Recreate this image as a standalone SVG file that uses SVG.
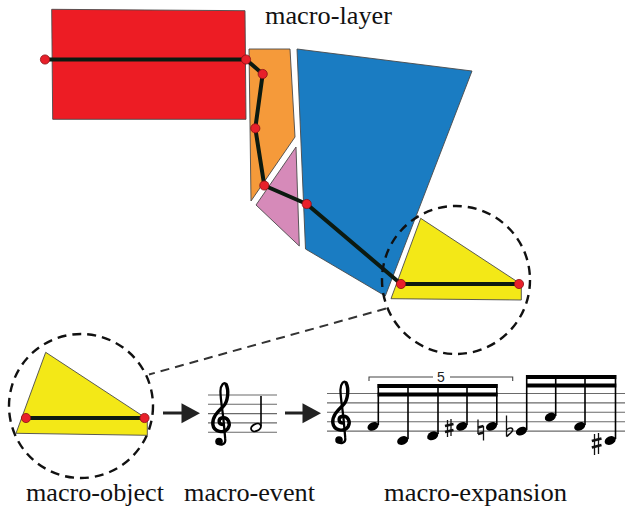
<svg xmlns="http://www.w3.org/2000/svg" width="625" height="508" viewBox="0 0 625 508">
<defs>
<style>
.shape{stroke:#4a4a4a;stroke-width:0.9;stroke-linejoin:miter}
.path{fill:none;stroke:#0c1a10;stroke-width:4;stroke-linejoin:round;stroke-linecap:round}
.dot{fill:#e8202a;stroke:#8a1015;stroke-width:0.8}
.dcirc{fill:none;stroke:#111;stroke-width:2.4;stroke-dasharray:9 6}
.dline{fill:none;stroke:#333;stroke-width:2;stroke-dasharray:9 6}
.label{font-family:"Liberation Serif","Times New Roman",serif;font-size:25px;fill:#111}
.staff{stroke:#6a6a6a;stroke-width:1.1}
.stem{stroke:#000;stroke-width:1.6}
.beam{fill:#000}
.head{fill:#000}
.arr{stroke:#222;stroke-width:3}
.acc{stroke:#111;stroke-width:1.3;fill:none}
.accb{stroke:#111;stroke-width:2.5;fill:none}
.clef{fill:none;stroke:#000;stroke-linecap:round;stroke-linejoin:round}
</style>
<g id="clefshape">
<path class="clef" stroke-width="3.6" d="M 13,31 C 9,31 8,25 13,24 C 19,23 22,30 19,35 C 15,41 4,39 3,31 C 2,23 9,17 14,12 C 19,7 20,-5 17,-11"/>
<path class="clef" stroke-width="2.4" d="M 17,-11 C 15,-15 11,-10 11,-4 C 11,4 13,15 14,24 L 16,46 C 17,53 10,54 8,49"/>
<circle cx="9.5" cy="49" r="4" fill="#000"/>
</g>
<ellipse id="nh" cx="0" cy="0" rx="5.8" ry="4.1" transform="rotate(-25)" class="head"/>
</defs>

<g id="macro-layer">
<polygon id="red" class="shape" fill="#ed1c24" points="51.7,9.3 245,10.7 246,119.3 52.7,119.3"/>
<polygon id="orange" class="shape" fill="#f59a3a" points="249,49 290,49 295,137 251,201"/>
<polygon id="pink" class="shape" fill="#d68ab9" points="256,205 296,147 299.3,246"/>
<polygon id="blue" class="shape" fill="#1a7cc2" points="297,49 472,71 385.3,296 305.5,249"/>
<polygon id="yellow" class="shape" fill="#f3e817" points="420.7,218.3 517.3,281.7 521.3,281.7 521.3,300 391,298.7"/>
<text class="label" x="265" y="24" textLength="127" lengthAdjust="spacingAndGlyphs">macro-layer</text>
</g>

<g id="connectors">
<polyline class="path" points="45,59.5 246,59.5 262.7,74 255.3,128.3 264.3,185.5 306.7,204 401,284 519,284"/>
<circle class="dot" cx="45" cy="59.5" r="4.6"/>
<circle class="dot" cx="246" cy="59.5" r="4.6"/>
<circle class="dot" cx="262.7" cy="74" r="4.6"/>
<circle class="dot" cx="255.3" cy="128.3" r="4.6"/>
<circle class="dot" cx="264.3" cy="185.5" r="4.6"/>
<circle class="dot" cx="306.7" cy="204" r="4.6"/>
<circle class="dot" cx="401" cy="284" r="4.6"/>
<circle class="dot" cx="519" cy="284" r="4.6"/>
<line class="dline" x1="386" y1="308.5" x2="149" y2="374.5"/>
<line class="arr" x1="163" y1="413" x2="184" y2="413"/>
<polygon fill="#222" points="181.5,403.3 200,413.3 181.5,423.3"/>
<line class="arr" x1="285" y1="413" x2="305" y2="413"/>
<polygon fill="#222" points="302.5,403.3 321,413.3 302.5,423.3"/>
</g>

<g id="zoom-circle">
<circle class="dcirc" cx="456" cy="280" r="74"/>
</g>

<g id="macro-object">
<circle class="dcirc" cx="81" cy="406" r="72"/>
<polygon class="shape" fill="#f3e817" points="45.7,352.3 142.3,415.7 147.3,415.7 147.3,435.3 16,433.3"/>
<line class="path" x1="26" y1="418" x2="144.5" y2="418"/>
<circle class="dot" cx="26" cy="418" r="4.6"/>
<circle class="dot" cx="144.5" cy="418" r="4.6"/>
<text class="label" x="26" y="501" textLength="138" lengthAdjust="spacingAndGlyphs">macro-object</text>
</g>

<g id="macro-event">
<line class="staff" x1="208" y1="395" x2="277" y2="395"/>
<line class="staff" x1="208" y1="404.3" x2="277" y2="404.3"/>
<line class="staff" x1="208" y1="413.6" x2="277" y2="413.6"/>
<line class="staff" x1="208" y1="422.9" x2="277" y2="422.9"/>
<line class="staff" x1="208" y1="432.2" x2="277" y2="432.2"/>
<use href="#clefshape" transform="translate(210,395) scale(0.95)"/>
<ellipse cx="0" cy="0" rx="5.2" ry="3.5" transform="translate(256,427.5) rotate(-25)" fill="none" stroke="#000" stroke-width="1.8"/>
<line class="stem" x1="261" y1="396" x2="261" y2="426"/>
<text class="label" x="184" y="501" textLength="131" lengthAdjust="spacingAndGlyphs">macro-event</text>
</g>

<g id="macro-expansion">
<line class="staff" x1="327" y1="393.5" x2="625" y2="393.5"/>
<line class="staff" x1="327" y1="402.9" x2="625" y2="402.9"/>
<line class="staff" x1="327" y1="412.3" x2="625" y2="412.3"/>
<line class="staff" x1="327" y1="421.7" x2="625" y2="421.7"/>
<line class="staff" x1="327" y1="431.1" x2="625" y2="431.1"/>
<use href="#clefshape" transform="translate(330,393.5) scale(0.95)"/>
<polyline fill="none" stroke="#444" stroke-width="1.1" points="369,381 369,377 433,377"/>
<polyline fill="none" stroke="#444" stroke-width="1.1" points="450,377 512.7,377 512.7,381"/>
<text x="441" y="382" text-anchor="middle" font-family="Liberation Sans, Arial, sans-serif" font-size="14" fill="#222">5</text>
<rect class="beam" x="377.6" y="384" width="120" height="4"/>
<rect class="beam" x="377.6" y="392.5" width="120" height="4"/>
<line class="stem" x1="378.3" y1="384" x2="378.3" y2="425"/>
<line class="stem" x1="408" y1="384" x2="408" y2="439"/>
<line class="stem" x1="438" y1="384" x2="438" y2="434"/>
<line class="stem" x1="467" y1="384" x2="467" y2="425"/>
<line class="stem" x1="496.8" y1="384" x2="496.8" y2="425"/>
<use href="#nh" transform="translate(373,426.4)"/>
<use href="#nh" transform="translate(402.7,440.5)"/>
<use href="#nh" transform="translate(432.7,435.8)"/>
<use href="#nh" transform="translate(461.7,426.4)"/>
<use href="#nh" transform="translate(491.5,426.4)"/>
<line class="acc" x1="447.5" y1="420" x2="447.5" y2="437"/>
<line class="acc" x1="451" y1="419" x2="451" y2="436"/>
<line class="accb" x1="445" y1="426" x2="453.5" y2="424"/>
<line class="accb" x1="445" y1="432" x2="453.5" y2="430"/>
<line class="acc" x1="478" y1="419.5" x2="478" y2="434"/>
<line class="acc" x1="483.5" y1="426" x2="483.5" y2="440.5"/>
<line class="accb" x1="478" y1="427.5" x2="483.5" y2="426"/>
<line class="accb" x1="478" y1="434" x2="483.5" y2="432.5"/>
<rect class="beam" x="526" y="375" width="90.3" height="4"/>
<rect class="beam" x="526" y="383.5" width="90.3" height="4"/>
<line class="stem" x1="526.7" y1="375" x2="526.7" y2="430"/>
<line class="stem" x1="555.7" y1="375" x2="555.7" y2="416"/>
<line class="stem" x1="585" y1="375" x2="585" y2="425"/>
<line class="stem" x1="615.5" y1="375" x2="615.5" y2="439"/>
<use href="#nh" transform="translate(521.4,431.1)"/>
<use href="#nh" transform="translate(550.4,417)"/>
<use href="#nh" transform="translate(579.7,426.4)"/>
<use href="#nh" transform="translate(610.2,440.5)"/>
<line class="acc" x1="506.5" y1="415.5" x2="506.5" y2="436.5"/>
<path d="M 506.5,430 C 509,427 513.5,427.5 512.5,430.5 C 511.5,433 508.5,435 506.5,436.5" fill="none" stroke="#111" stroke-width="1.6"/>
<line class="acc" x1="594.5" y1="434" x2="594.5" y2="455"/>
<line class="acc" x1="598.5" y1="433" x2="598.5" y2="454"/>
<line class="accb" x1="591.8" y1="441" x2="601.5" y2="438.5"/>
<line class="accb" x1="591.8" y1="447.5" x2="601.5" y2="445"/>
<text class="label" x="384" y="501" textLength="183" lengthAdjust="spacingAndGlyphs">macro-expansion</text>
</g>
</svg>
